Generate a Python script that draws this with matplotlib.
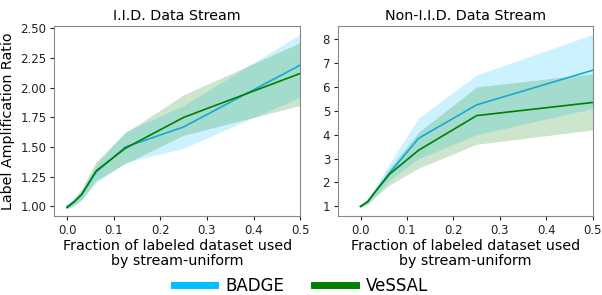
import matplotlib
matplotlib.use('Agg')
import matplotlib.pyplot as plt
from matplotlib.lines import Line2D

fractions = [0.0, 0.015625, 0.03125, 0.0625, 0.125, 0.25, 0.5]

# I.I.D. stream
iid_badge = [1.0, 1.04, 1.10, 1.29, 1.50, 1.67, 2.19]
iid_badge_lo = [0.98, 1.01, 1.05, 1.20, 1.37, 1.49, 1.92]
iid_badge_hi = [1.01, 1.07, 1.13, 1.35, 1.63, 1.85, 2.45]
iid_vessal = [0.99, 1.04, 1.10, 1.30, 1.49, 1.75, 2.12]
iid_vessal_lo = [0.98, 1.01, 1.06, 1.22, 1.36, 1.60, 1.85]
iid_vessal_hi = [1.01, 1.07, 1.15, 1.38, 1.62, 1.94, 2.38]

# Non-I.I.D. stream
non_badge = [1.0, 1.2, 1.6, 2.4, 3.85, 5.25, 6.7]
non_badge_lo = [0.95, 1.1, 1.4, 2.1, 3.0, 4.0, 5.1]
non_badge_hi = [1.05, 1.3, 1.8, 2.8, 4.7, 6.5, 8.2]
non_vessal = [1.0, 1.2, 1.6, 2.35, 3.35, 4.8, 5.35]
non_vessal_lo = [0.95, 1.1, 1.4, 1.9, 2.6, 3.6, 4.2]
non_vessal_hi = [1.05, 1.3, 1.7, 2.6, 4.1, 6.0, 6.55]

badge_line = '#17a9d6'
badge_fill = '#00bfff'
vessal_col = 'green'

fig = plt.figure(figsize=(6.02, 2.95), dpi=100)
ax1 = fig.add_axes([0.0897, 0.268, 0.409, 0.644])
ax2 = fig.add_axes([0.561, 0.268, 0.424, 0.644])

def draw(ax, b, blo, bhi, v, vlo, vhi):
    ax.fill_between(fractions, blo, bhi, color=badge_fill, alpha=0.2, linewidth=0)
    ax.fill_between(fractions, vlo, vhi, color=vessal_col, alpha=0.2, linewidth=0)
    ax.plot(fractions, b, color=badge_line, linewidth=1.2)
    ax.plot(fractions, v, color=vessal_col, linewidth=1.2)
    ax.tick_params(labelsize=8.5, length=3, pad=2.5, colors='#222222')
    for s in ax.spines.values():
        s.set_color('#888888')
    ax.set_xlabel('Fraction of labeled dataset used\nby stream-uniform', fontsize=10.3,
                  linespacing=1.1, labelpad=2)
    ax.set_xticks([0.0, 0.1, 0.2, 0.3, 0.4, 0.5])

draw(ax1, iid_badge, iid_badge_lo, iid_badge_hi, iid_vessal, iid_vessal_lo, iid_vessal_hi)
ax1.set_xlim(-0.028, 0.5)
ax1.set_ylim(0.92, 2.52)
ax1.set_yticks([1.0, 1.25, 1.5, 1.75, 2.0, 2.25, 2.5])
ax1.set_ylabel('Label Amplification Ratio', fontsize=10.3)
ax1.set_title('I.I.D. Data Stream', fontsize=10.3, pad=4)

draw(ax2, non_badge, non_badge_lo, non_badge_hi, non_vessal, non_vessal_lo, non_vessal_hi)
ax2.set_xlim(-0.049, 0.5)
ax2.set_ylim(0.6, 8.55)
ax2.set_yticks([1, 2, 3, 4, 5, 6, 7, 8])
ax2.set_title('Non-I.I.D. Data Stream', fontsize=10.3, pad=4)

handles = [Line2D([0], [0], color=badge_fill, linewidth=5),
           Line2D([0], [0], color=vessal_col, linewidth=5)]
fig.legend(handles, ['BADGE', 'VeSSAL'], loc='center', ncol=2, frameon=False,
           fontsize=12, bbox_to_anchor=(0.5, 9 / 295), handlelength=2.5,
           columnspacing=1.8, handletextpad=0.6, borderpad=0)

fig.savefig('out.png', dpi=100)
